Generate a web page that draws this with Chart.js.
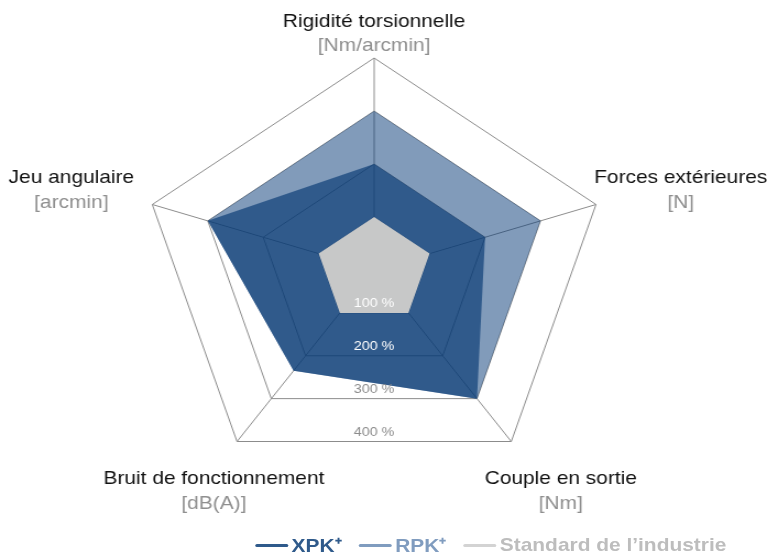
<!DOCTYPE html>
<html lang="fr">
<head>
<meta charset="utf-8">
<title>Comparaison XPK+ / RPK+</title>
<script src="https://cdn.jsdelivr.net/npm/chart.js@4.4.1/dist/chart.umd.min.js"></script>
<style>
	html, body {
		margin: 0;
		padding: 0;
		background: #fff;
		overflow: hidden;
	}
	/* the reference picture is a little wider than tall, so the whole chart is stretched in x */
	#wrap {
		position: absolute;
		left: 0;
		top: 0;
		width: 697px;
		height: 556px;
		transform: scaleX(1.1004);
		transform-origin: 0 0;
	}
	#legend {
		position: absolute;
		left: 232px;
		top: 535px;
		height: 20px;
		display: flex;
		align-items: center;
		font: bold 19px "Liberation Sans", Arial, Helvetica, sans-serif;
		white-space: nowrap;
	}
	.item {
		display: flex;
		align-items: center;
		margin-right: 16px;
	}
	.item .mark {
		display: inline-block;
		width: 30px;
		height: 3px;
		border-radius: 2px;
		margin-right: 3px;
	}
</style>
</head>
<body>
<div id="wrap">
	<canvas id="radar" width="697" height="556"></canvas>
	<div id="legend"></div>
</div>
<script>
// axes, clockwise from the top
const axisNames = [
	"Rigidité torsionnelle",
	"Forces extérieures",
	"Couple en sortie",
	"Bruit de fonctionnement",
	"Jeu angulaire",
];
const axisUnits = ["[Nm/arcmin]", "[N]", "[Nm]", "[dB(A)]", "[arcmin]"];

// values in % of the industry standard
const xpkValues = [200, 200, 300, 235, 300];
const rpkValues = [300, 300, 300, 235, 300];
const standardValues = [100, 100, 100, 100, 100];

const seriesNames = ["XPK⁺", "RPK⁺", "Standard de l’industrie"];
const tickValues = [100, 200, 300, 400];

const colors = {
	xpk: "rgba(6, 57, 115, 0.65)",
	rpk: "rgba(3, 55, 117, 0.5)",
	standard: "#c7c8c8",
	xpkSolid: "#2f5a8b",
	rpkSolid: "#809cbf",
	standardLine: "#d3d3d3",
	standardText: "#bdbdbd",
	grid: "#8c8c8c",
};
const tickColors = ["#ffffff", "#ffffff", "#8c8c8c", "#8c8c8c"];

// name / unit block centre, relative to the outer corner of each axis
const labelOffsets = [
	[0, -36.5],
	[77, -26.5],
	[45, 37.5],
	[-21, 37.5],
	[-73.5, -26.5],
];
const FONT = '"Liberation Sans", Arial, Helvetica, sans-serif';

const axisText = {
	id: "axisText",
	afterDraw(chart) {
		const r = chart.scales.r;
		const ctx = chart.ctx;
		ctx.save();
		ctx.textAlign = "center";
		ctx.textBaseline = "middle";
		ctx.font = "19px " + FONT;
		axisNames.forEach((name, i) => {
			const p = r.getPointPosition(i, r.drawingArea);
			const x = p.x + labelOffsets[i][0];
			const y = p.y + labelOffsets[i][1];
			ctx.fillStyle = "#111111";
			ctx.fillText(name, x, y);
			ctx.fillStyle = "#8f8f8f";
			ctx.fillText(axisUnits[i], x, y + 24.5);
		});
		// percent labels sit just above the bottom edge of each ring
		ctx.font = "13px " + FONT;
		tickValues.forEach((v, i) => {
			const p = r.getPointPosition(2, r.getDistanceFromCenterForValue(v));
			ctx.fillStyle = tickColors[i];
			ctx.fillText(v + " %", r.xCenter, p.y - 9);
		});
		ctx.restore();
	},
};

const chart = new Chart(document.getElementById("radar"), {
	type: "radar",
	data: {
		labels: axisNames,
		datasets: [
			{
				label: seriesNames[0],
				data: xpkValues,
				backgroundColor: colors.xpk,
				order: 1,
			},
			{
				label: seriesNames[1],
				data: rpkValues,
				backgroundColor: colors.rpk,
				order: 2,
			},
			{
				label: seriesNames[2],
				data: standardValues,
				backgroundColor: colors.standard,
				order: 0,
			},
		],
	},
	options: {
		responsive: false,
		animation: false,
		devicePixelRatio: 1,
		layout: {
			padding: { left: 128, right: 144, top: 58, bottom: 73 },
		},
		elements: {
			line: { borderWidth: 0, fill: true, tension: 0 },
			point: { radius: 0, hoverRadius: 0 },
		},
		plugins: {
			legend: { display: false },
			tooltip: { enabled: false },
		},
		scales: {
			r: {
				min: 0,
				max: 400,
				ticks: { display: false, stepSize: 100 },
				grid: { color: colors.grid, lineWidth: 1 },
				angleLines: { color: colors.grid, lineWidth: 1 },
				pointLabels: { display: false },
			},
		},
	},
	plugins: [axisText],
});

// legend, same order as the datasets
const legendColors = [
	[colors.xpkSolid, colors.xpkSolid],
	[colors.rpkSolid, colors.rpkSolid],
	[colors.standardLine, colors.standardText],
];
document.getElementById("legend").innerHTML = seriesNames
	.map(
		(name, i) =>
			`<span class="item"><span class="mark" style="background:${legendColors[i][0]}"></span><span style="color:${legendColors[i][1]}">${name}</span></span>`
	)
	.join("");
</script>
</body>
</html>
